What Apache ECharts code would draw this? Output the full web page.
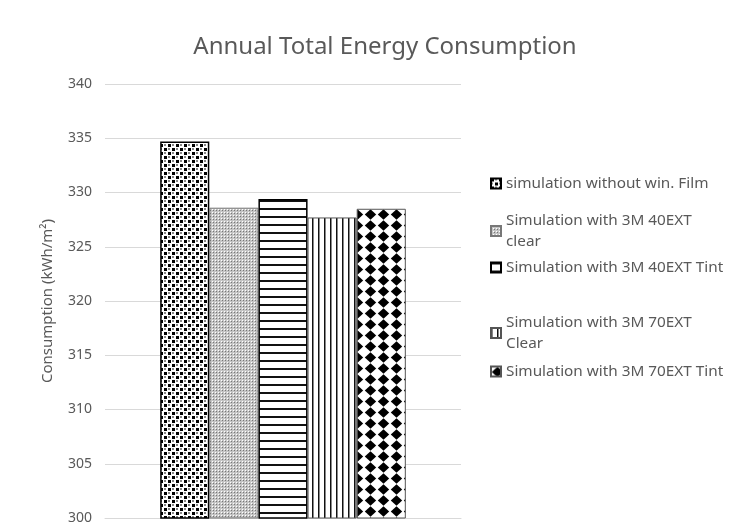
<!DOCTYPE html>
<html>
<head>
<meta charset="utf-8">
<script src="https://cdn.jsdelivr.net/npm/echarts@6/dist/echarts.min.js"></script>
<style>
html,body{margin:0;padding:0;background:#fff;}
#chart{width:731px;height:532px;}
</style>
</head>
<body>
<div id="chart"></div>
<script>
const titleText = 'Annual Total Energy Consumption';
const yAxisName = 'Consumption (kWh/m\u00B2)';
const categories = [''];
const seriesNames = [
  'simulation without win. Film',
  'Simulation with 3M 40EXT clear',
  'Simulation with 3M 40EXT Tint',
  'Simulation with 3M 70EXT Clear',
  'Simulation with 3M 70EXT Tint'
];
const seriesValues = [334.7, 328.6, 329.4, 327.7, 328.5];
const yMin = 300, yMax = 340, yStep = 5;

function makeTile(w, h, draw) {
  const c = document.createElement('canvas');
  c.width = w; c.height = h;
  const g = c.getContext('2d');
  g.fillStyle = '#fff'; g.fillRect(0, 0, w, h);
  draw(g);
  return c;
}
const patterns = [
  makeTile(8, 8, g => {
    g.fillStyle = '#000';
    g.fillRect(0, 0, 3, 3); g.fillRect(4, 4, 3, 3);
    g.fillStyle = '#888';
    g.fillRect(4, 0, 2, 2); g.fillRect(0, 4, 2, 2);
  }),
  makeTile(3, 3, g => {
    g.fillStyle = '#c4c4c4'; g.fillRect(0, 0, 3, 3);
    g.fillStyle = '#777'; g.fillRect(0, 0, 1, 1);
    g.fillStyle = '#fff'; g.fillRect(2, 2, 1, 1);
  }),
  makeTile(8, 8, g => {
    g.fillStyle = '#111'; g.fillRect(0, 0, 8, 2);
  }),
  makeTile(6, 6, g => {
    g.fillStyle = '#111'; g.fillRect(0, 0, 1.5, 6);
  }),
  makeTile(13, 11, g => {
    g.fillStyle = '#000';
    g.beginPath();
    g.moveTo(6.5, 0.3); g.lineTo(12.2, 5.5); g.lineTo(6.5, 10.7); g.lineTo(0.8, 5.5);
    g.closePath(); g.fill();
  })
];

const borderColors = ['#000', '#777', '#000', '#555', '#555'];
const borderWidths = [1.5, 1, 1.5, 1, 1];

const series = seriesNames.map((name, i) => ({
  name: name,
  type: 'bar',
  barGap: '0%',
  barCategoryGap: '31%',
  data: [seriesValues[i]],
  itemStyle: {
    color: { image: patterns[i], repeat: 'repeat' },
    borderColor: borderColors[i],
    borderWidth: borderWidths[i]
  },
  emphasis: { disabled: true }
}));

const legendTops = [168, 205, 252, 307, 356];
function wrapName(n) {
  if (/ (clear|Clear)$/.test(n)) return n.replace(/ (clear|Clear)$/, '\n$1');
  return n;
}
const legends = seriesNames.map((name, i) => ({
  data: [name],
  left: 485,
  top: legendTops[i],
  orient: 'vertical',
  itemWidth: 10,
  itemHeight: 10,
  itemGap: 3,
  icon: 'rect',
  formatter: wrapName,
  textStyle: { color: '#595959', fontSize: 15.3, fontFamily: 'Noto Sans', lineHeight: 21 },
  selectedMode: false
}));

const chart = echarts.init(document.getElementById('chart'), null, { renderer: 'canvas' });
chart.setOption({
  animation: false,
  backgroundColor: '#fff',
  title: {
    text: titleText,
    left: 380,
    textAlign: 'center',
    top: 30,
    textStyle: { color: '#595959', fontSize: 24, fontWeight: 'normal', fontFamily: 'Noto Sans' }
  },
  legend: legends,
  grid: { left: 105, right: 270, top: 84, bottom: 14, containLabel: false },
  xAxis: {
    type: 'category',
    data: categories,
    axisLine: { show: true, lineStyle: { color: '#d9d9d9', width: 1 } },
    axisTick: { show: false },
    axisLabel: { show: false }
  },
  yAxis: {
    type: 'value',
    min: yMin, max: yMax, interval: yStep,
    name: yAxisName,
    nameLocation: 'middle',
    nameGap: 50,
    nameRotate: 90,
    nameTextStyle: { color: '#595959', fontSize: 15, fontFamily: 'Noto Sans' },
    axisLine: { show: false },
    axisTick: { show: false },
    axisLabel: { color: '#595959', fontSize: 14, fontFamily: 'Noto Sans', margin: 13 },
    splitLine: { lineStyle: { color: '#d9d9d9', width: 1 } }
  },
  series: series
});
</script>
</body>
</html>
